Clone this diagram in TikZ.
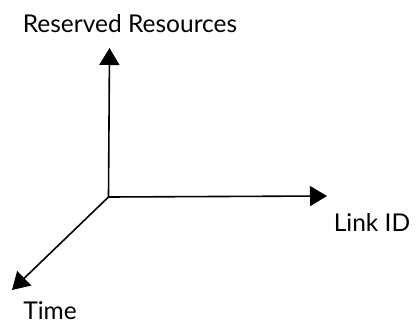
\documentclass[tikz,border=0pt]{standalone}
\usepackage{fontspec}
\setmainfont{Lato}
\usetikzlibrary{arrows.meta}
\begin{document}
\begin{tikzpicture}[x=1pt,y=1pt,
  axis/.style={line width=1.6pt,-{Triangle[length=17pt,width=20pt]}},
  lbl/.style={inner sep=0pt,font=\fontsize{24.5}{27}\selectfont}]
\useasboundingbox (0,0) rectangle (417,325);
\coordinate (o) at (108.5,128);
\coordinate (up) at (109.5,277);
\coordinate (right) at (327,129);
\coordinate (down) at (12,35);
\draw[axis] (o) -- (up);
\draw[axis] (o) -- (right);
\draw[axis] (o) -- (down);
\node[lbl] (rr) at (130,301) {Reserved Resources};
\node[lbl] (lid) at (372,103) {Link ID};
\node[lbl] (time) at (50,14) {Time};
\end{tikzpicture}
\end{document}
